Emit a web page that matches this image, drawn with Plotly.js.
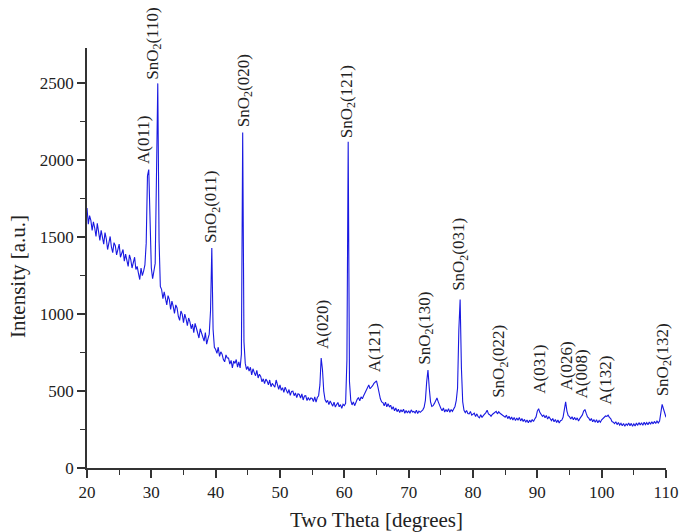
<!DOCTYPE html>
<html>
<head>
<meta charset="utf-8">
<script src="https://cdn.plot.ly/plotly-3.0.1.min.js"></script>
<style>
html,body{margin:0;padding:0;background:#fff;}
#chart{width:680px;height:532px;}
</style>
</head>
<body>
<div id="chart"></div>
<script>
// Two-theta scan: start 20 deg, step 0.2 deg
const twoThetaStart = 20;
const twoThetaStep = 0.2;
// Intensity readings (a.u.), 5 per degree from 20.0 to 109.8, then 110.0
const intensity = [
1690,1585,1640,1610,1545,
1600,1560,1505,1590,1530,
1480,1545,1500,1455,1530,
1490,1420,1470,1505,1435,
1400,1465,1445,1385,1430,
1455,1370,1395,1420,1345,
1390,1350,1310,1385,1355,
1300,1345,1370,1290,1310,
1265,1225,1300,1250,1280,
1320,1460,1900,1940,1560,
1300,1230,1290,1330,1900,
2500,1480,1180,1160,1100,
1145,1085,1060,1120,1095,
1030,1085,1050,1005,1060,
1040,985,960,1020,1000,
945,1000,970,925,975,
950,905,935,880,940,
910,870,845,905,880,
860,825,880,805,840,
870,1020,1430,900,785,
770,745,785,725,755,
740,705,690,735,715,
715,675,700,650,695,
680,705,655,690,650,
740,2180,820,680,640,
660,630,655,605,645,
620,600,635,585,610,
595,560,580,548,578,
565,540,572,528,550,
538,525,572,548,512,
540,505,522,492,525,
505,485,510,472,498,
500,470,488,458,482,
478,455,482,442,468,
470,438,458,440,455,
452,432,462,428,458,
470,540,715,640,500,
445,428,440,412,436,
420,402,428,396,412,
426,398,412,388,414,
405,420,700,2120,560,
440,410,430,405,432,
446,458,436,462,450,
470,490,510,525,540,
515,522,535,550,560,
567,530,480,450,430,
425,405,428,398,418,
398,408,382,398,372,
390,366,382,360,378,
365,382,356,374,358,
372,356,378,364,368,
358,376,354,370,362,
370,378,395,440,560,
637,520,430,400,405,
420,440,455,430,400,
388,372,390,364,380,
366,386,362,380,368,
385,400,440,520,900,
1095,650,430,375,360,
374,354,352,368,344,
349,356,334,352,333,
326,346,328,340,347,
360,376,352,346,336,
348,354,362,368,352,
366,356,349,345,336,
330,344,321,336,316,
332,312,329,308,325,
311,329,306,322,302,
316,298,312,294,311,
298,315,302,319,332,
370,385,360,345,336,
344,326,342,318,333,
321,308,322,301,315,
296,312,292,307,311,
330,380,430,370,340,
334,318,333,314,329,
312,326,306,321,332,
345,370,380,355,332,
324,308,322,301,313,
298,314,294,309,297,
313,322,333,338,335,
343,329,321,302,298,
288,301,282,296,279,
291,275,289,272,287,
277,293,275,290,272,
287,273,292,277,295,
279,294,277,297,282,
295,281,299,285,301,
287,303,289,305,293,
305,360,414,385,350,
330
];

// Peak labels
const peakLabels = ["A(011)","SnO<sub>2</sub>(110)","SnO<sub>2</sub>(011)","SnO<sub>2</sub>(020)","A(020)","SnO<sub>2</sub>(121)","A(121)","SnO<sub>2</sub>(130)","SnO<sub>2</sub>(031)","SnO<sub>2</sub>(022)","A(031)","A(026)","A(008)","A(132)","SnO<sub>2</sub>(132)"];
const peakLabelX = [28.75, 30.3, 39.45, 44.55, 56.6, 60.55, 64.6, 72.65, 78.0, 84.2, 90.4, 94.6, 96.9, 100.6, 109.7];
const peakLabelY = [1965, 2512, 1450, 2205, 760, 2133, 612, 660, 1136, 440, 472, 494, 440, 398, 450];

const xTickVals = [20,30,40,50,60,70,80,90,100,110];
const yTickVals = [0,500,1000,1500,2000,2500];

const font = "'Liberation Serif','Times New Roman',serif";

const trace = {
  type: 'scatter',
  mode: 'lines',
  x0: twoThetaStart,
  dx: twoThetaStep,
  y: intensity,
  line: {color: 'rgb(25,25,225)', width: 1.1},
  hoverinfo: 'skip'
};

const annotations = peakLabels.map((t, i) => ({
  x: peakLabelX[i], y: peakLabelY[i], xref: 'x', yref: 'y',
  text: t, showarrow: false, textangle: -90,
  xanchor: 'center', yanchor: 'bottom',
  font: {family: font, size: 17, color: '#222'}
}));
annotations.push({
  x: -0.119, y: 0.455, xref: 'paper', yref: 'paper',
  text: 'Intensity [a.u.]', showarrow: false, textangle: -90,
  xanchor: 'center', yanchor: 'middle',
  font: {family: font, size: 21, color: '#222'}
});

const layout = {
  width: 680, height: 532,
  margin: {l: 87, r: 14, t: 48, b: 64},
  paper_bgcolor: '#fff', plot_bgcolor: '#fff',
  showlegend: false,
  font: {family: font, size: 17, color: '#222'},
  xaxis: {
    range: [20, 110], tickvals: xTickVals, ticktext: xTickVals.map(String),
    showgrid: false, zeroline: false,
    showline: true, linecolor: '#333', linewidth: 1.6,
    ticks: 'outside', ticklen: 8, tickwidth: 1.6, tickcolor: '#333',
    minor: {dtick: 5, tick0: 20, ticks: 'outside', ticklen: 5, tickwidth: 1.4, tickcolor: '#333', showgrid: false},
    tickfont: {family: font, size: 17, color: '#222'},
    title: {text: 'Two Theta [degrees]', font: {family: font, size: 21, color: '#222'}, standoff: 17}
  },
  yaxis: {
    range: [0, 2730], tickvals: yTickVals, ticktext: yTickVals.map(String),
    showgrid: false, zeroline: false,
    showline: true, linecolor: '#333', linewidth: 1.6,
    ticks: 'outside', ticklen: 8, tickwidth: 1.6, tickcolor: '#333',
    minor: {dtick: 250, tick0: 0, ticks: 'outside', ticklen: 5, tickwidth: 1.4, tickcolor: '#333', showgrid: false},
    tickfont: {family: font, size: 17, color: '#222'}
  },
  annotations: annotations
};

Plotly.newPlot('chart', [trace], layout, {displayModeBar: false});
</script>
</body>
</html>
